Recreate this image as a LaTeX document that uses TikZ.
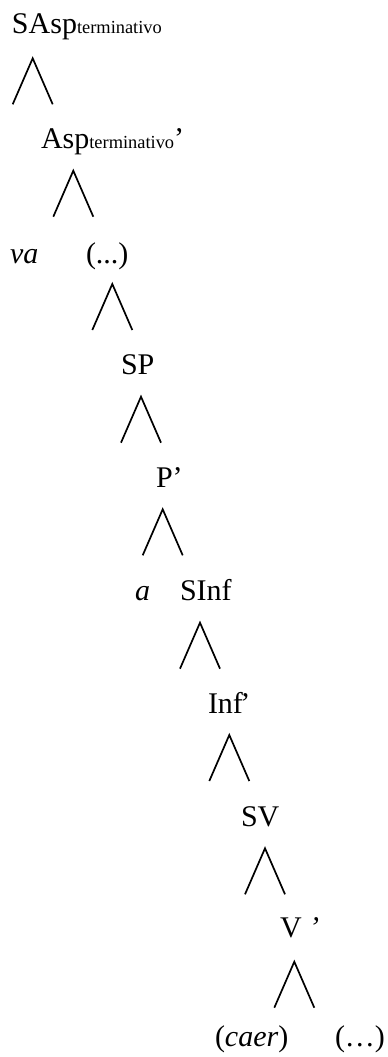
\documentclass[tikz,border=0pt]{standalone}
\usepackage{fontspec}
\setmainfont{Liberation Serif}
\begin{document}
\begin{tikzpicture}[x=1pt,y=-1pt,
  lbl/.style={anchor=base west, inner sep=0pt, outer sep=0pt, font=\fontsize{30}{36}\selectfont},
  branch/.style={line width=1.7pt, line join=miter, line cap=butt}]
\useasboundingbox (0,0) rectangle (388,1057);
\newcommand{\subsc}[1]{{\fontsize{18.4}{20}\selectfont #1}}
% labels
\node[lbl] (sasp) at (12,34) {SAsp\subsc{terminativo}};
\node[lbl] (asp) at (41,148) {Asp\subsc{terminativo}’};
\node[lbl] (va) at (10,263) {\textit{va}};
\node[lbl] (dots1) at (86,263) {(...)};
\node[lbl] (sp) at (121,374) {SP};
\node[lbl] (pbar) at (156,487) {P’};
\node[lbl] (a) at (135,600) {\textit{a}};
\node[lbl] (sinf) at (180,600) {SInf};
\node[lbl] (infbar) at (208,713) {Inf\kern-2.5pt’};
\node[lbl] (sv) at (241,826) {SV};
\node[lbl] (vbar) at (280,937) {V \textit{’}};
\node[lbl] (caer) at (215,1046) {(\textit{caer})};
\node[lbl] (dots2) at (335,1046) {(…)};
% triangle apexes
\coordinate (t1) at (32.7,58.3);
\coordinate (t2) at (73.3,170.7);
\coordinate (t3) at (112.3,284);
\coordinate (t4) at (141,396.7);
\coordinate (t5) at (162.7,509.3);
\coordinate (t6) at (200,622.7);
\coordinate (t7) at (229.3,735);
\coordinate (t8) at (265,848.3);
\coordinate (t9) at (294.3,961.7);
\foreach \t in {t1,t2,t3,t4,t5,t6,t7,t8,t9}{
  \draw[branch] ([shift={(-20,46)}]\t) -- (\t) -- ([shift={(20,46)}]\t);
}
\end{tikzpicture}
\end{document}
